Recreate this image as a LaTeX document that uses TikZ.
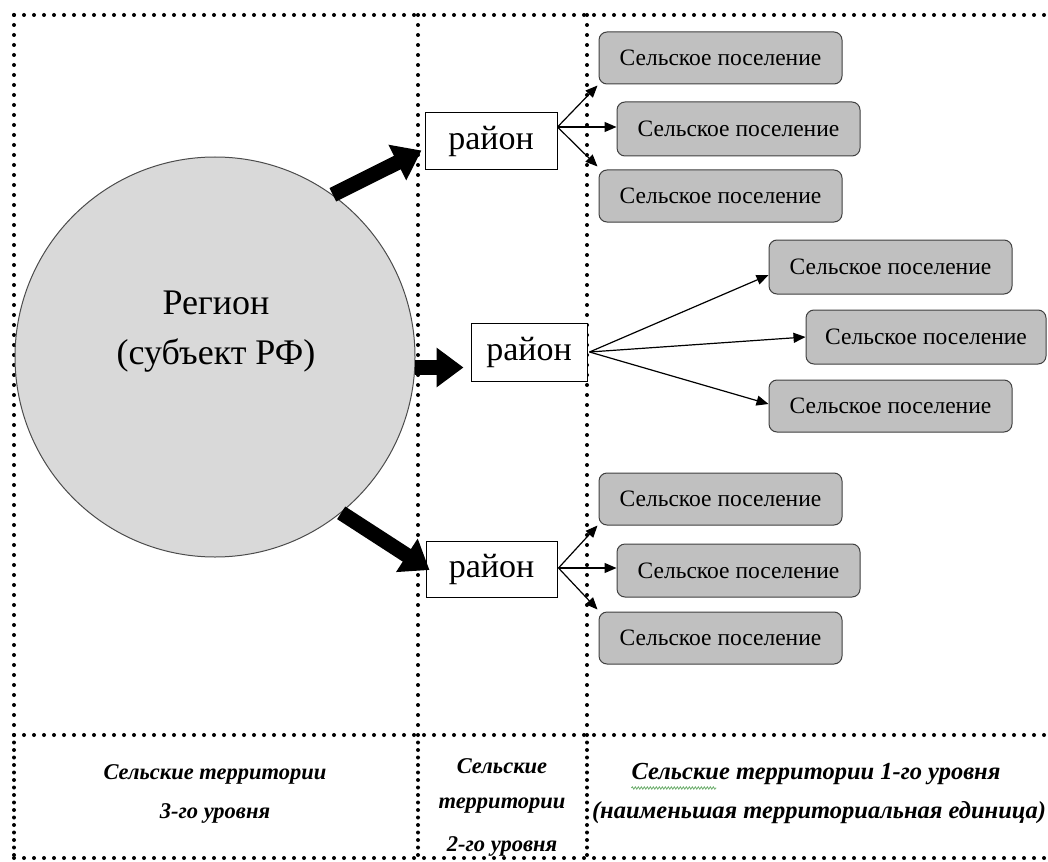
\documentclass[tikz,border=0pt]{standalone}
\usepackage{fontspec}
\setmainfont{Liberation Serif}
\usetikzlibrary{arrows.meta,calc,decorations.pathmorphing}
\definecolor{circfill}{HTML}{D9D9D9}
\definecolor{boxfill}{HTML}{C0C0C0}
\definecolor{boxline}{HTML}{404040}
\definecolor{spell}{HTML}{70B070}
\tikzset{
  dotline/.style={line width=4pt, line cap=round, dash pattern=on 0pt off 10pt},
  dotdense/.style={line width=4pt, line cap=round, dash pattern=on 0pt off 7.5pt},
  sp/.style={draw=boxline, fill=boxfill, rounded corners=8pt, line width=1pt,
    minimum width=243pt, minimum height=52pt, inner sep=0pt,
    font=\fontsize{23.5}{26}\selectfont},
  raion/.style={draw=black, fill=white, line width=1pt, inner sep=0pt,
    font=\fontsize{34}{38}\selectfont},
  thin/.style={line width=1.2pt, -{Triangle[length=12pt,width=10pt]}},
  thick/.style={line width=15pt, -{Triangle[length=27pt,width=38pt]}},
  lbl/.style={font=\fontsize{#1}{#1}\selectfont\bfseries\itshape, inner sep=0pt}
}
\begin{document}
\begin{tikzpicture}[x=1pt,y=-1pt]
\useasboundingbox (0,0) rectangle (1048,861);
% grid of dotted lines
\draw[dotline] (14,15) -- (1048,15);
\draw[dotline] (14,15) -- (14,735);
\draw[dotline] (418,15) -- (418,735);
\draw[dotline] (587,15) -- (587,735);
\draw[dotline] (14,735) -- (1048,735);
\draw[dotdense] (14,735) -- (14,858);
\draw[dotdense] (418,735) -- (418,858);
\draw[dotdense] (587,735) -- (587,858);
\draw[dotline] (14,858) -- (1048,858);

% region circle
\node[circle, draw=black!70, fill=circfill, line width=1pt, minimum size=400pt, inner sep=0pt] (region) at (215,357) {};
\node[font=\fontsize{36}{40}\selectfont] (regt1) at (216,303) {Регион};
\node[font=\fontsize{36}{40}\selectfont] (regt2) at (216,355) {(субъект РФ)};

% raion boxes
\node[raion, minimum width=132pt, minimum height=57pt] (R1) at (491,141.5) {район};
\node[raion, minimum width=116pt, minimum height=58pt] (R2) at (529,352) {район};
\node[raion, minimum width=131pt, minimum height=56pt] (R3) at (491.5,569) {район};

% settlement boxes
\node[sp] (B1) at (720.5,58) {Сельское поселение};
\node[sp, minimum height=54pt] (B2) at (738.5,129) {Сельское поселение};
\node[sp] (B3) at (720.5,196) {Сельское поселение};
\node[sp, minimum height=54pt] (B4) at (890.5,267) {Сельское поселение};
\node[sp, minimum width=240pt, minimum height=54pt] (B5) at (926,337) {Сельское поселение};
\node[sp] (B6) at (890.5,406) {Сельское поселение};
\node[sp] (B7) at (720.5,499) {Сельское поселение};
\node[sp, minimum height=53pt] (B8) at (738.5,570.5) {Сельское поселение};
\node[sp] (B9) at (720.5,638) {Сельское поселение};

% thick arrows
\draw[thick] (region.54) -- ($(R1.west)+(-3,9)$);
\draw[thick] (region.-3) -- ($(region.-3 -| R2.west)+(-7,0)$);
\draw[thick] (region.-51) -- ($(R3.west)+(4,1)$);

% thin arrows
\coordinate (o1) at ($(R1.north east)!0.25!(R1.south east)$);
\draw[thin] (o1) -- ($(B1.south west)+(-1,1)$);
\draw[thin] (o1) -- (B2.west |- o1);
\draw[thin] (o1) -- ($(B3.north west)+(-1,-3)$);

\coordinate (o2) at ($(R2.east)+(2,0)$);
\draw[thin] (o2) -- ($(B4.west)+(0,8)$);
\draw[thin] (o2) -- (B5.west);
\draw[thin] (o2) -- ($(B6.west)+(0,-2)$);

\coordinate (o3) at ($(R3.east)+(1,-1)$);
\draw[thin] (o3) -- ($(B7.south west)+(-1,0)$);
\draw[thin] (o3) -- (B8.west |- o3);
\draw[thin] (o3) -- ($(B9.north west)+(-1,-2)$);

% bottom labels
\node[lbl=22.5] (L1a) at (215,774) {Сельские территории};
\node[lbl=22.5] (L1b) at (215,813) {3-го уровня};
\node[lbl=22.5] (L2a) at (502,766) {Сельские};
\node[lbl=22.5] (L2b) at (502,806) {территории};
\node[lbl=22.5] (L2c) at (502,846) {2-го уровня};
\node[lbl=24.5] (L3a) at (816,774) {Сельские территории 1-го уровня};
\node[lbl=24.5] (L3b) at (819,813) {(наименьшая территориальная единица)};
\draw[spell, line width=0.8pt, decorate, decoration={snake, amplitude=1.2pt, segment length=3pt}]
  ($(L3a.south west)+(0,3)$) -- ++(85,0);
\end{tikzpicture}
\end{document}
